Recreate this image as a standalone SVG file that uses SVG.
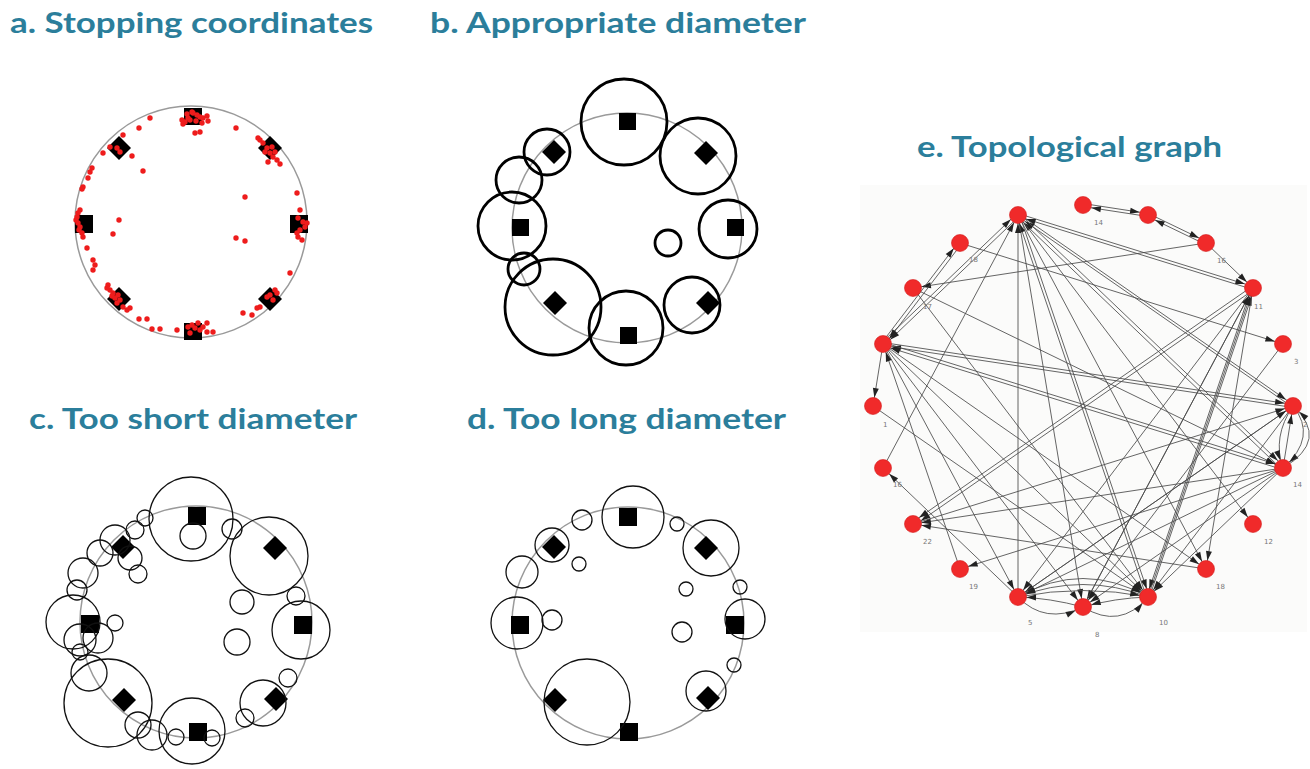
<svg xmlns="http://www.w3.org/2000/svg" width="1310" height="769" viewBox="0 0 1310 769">
<style>
.t{font-family:Lato,"Open Sans","Liberation Sans",sans-serif;font-weight:bold;font-size:29px;fill:#2b7e9b}
.g{fill:none;stroke:#9a9a9a;stroke-width:1.5}
.k{fill:#000}
.r{fill:#ee1c1c}
.b3{fill:none;stroke:#000;stroke-width:2.8}
.b1{fill:none;stroke:#111;stroke-width:1.3}
.e{fill:none;stroke:#4a4a4a;stroke-width:1;stroke-opacity:0.85;marker-end:url(#ar)}
.n{fill:#f02a2a;stroke:#d41a1a;stroke-width:0.6}
.lb{font-family:"DejaVu Sans",sans-serif;font-size:7px;fill:#777}
</style>
<defs>
<marker id="ar" viewBox="-20 -5 22 10" markerWidth="22" markerHeight="10" markerUnits="userSpaceOnUse" refX="0" refY="0" orient="auto">
<path d="M-18,-3 L-8.5,0 L-18,3 z" fill="#222"/>
</marker>
</defs>
<rect width="1310" height="769" fill="#fff"/>

<g id="titles">
<text class="t" x="10" y="33" textLength="363" lengthAdjust="spacingAndGlyphs">a. Stopping coordinates</text>
<text class="t" x="430" y="33" textLength="376" lengthAdjust="spacingAndGlyphs">b. Appropriate diameter</text>
<text class="t" x="29" y="429" textLength="328" lengthAdjust="spacingAndGlyphs">c. Too short diameter</text>
<text class="t" x="467" y="429" textLength="319" lengthAdjust="spacingAndGlyphs">d. Too long diameter</text>
<text class="t" x="917" y="157" textLength="305" lengthAdjust="spacingAndGlyphs">e. Topological graph</text>
</g>

<g id="panel-a">
<circle class="g" cx="191" cy="222" r="116"/>
<rect class="k" x="184" y="108" width="18" height="17"/>
<rect class="k" x="184" y="323" width="18" height="17"/>
<rect class="k" x="75" y="215" width="18" height="18"/>
<rect class="k" x="290" y="215" width="18" height="18"/>
<path class="k" d="M119,136 L131,148 L119,160 L107,148 z"/>
<path class="k" d="M270,136 L282,148 L270,160 L258,148 z"/>
<path class="k" d="M119,287 L131,299 L119,311 L107,299 z"/>
<path class="k" d="M270,287 L282,299 L270,311 L258,299 z"/>
<g class="r">
<circle cx="185" cy="122" r="2.7"/><circle cx="182" cy="120" r="2.7"/><circle cx="183" cy="124" r="2.7"/><circle cx="188" cy="118" r="2.7"/><circle cx="193" cy="113" r="2.7"/><circle cx="197" cy="115" r="2.7"/><circle cx="200" cy="117" r="2.7"/><circle cx="203" cy="118" r="2.7"/><circle cx="207" cy="116" r="2.7"/><circle cx="208" cy="121" r="2.7"/><circle cx="202" cy="123" r="2.7"/><circle cx="195" cy="133" r="2.7"/><circle cx="200" cy="132" r="2.7"/><circle cx="192" cy="112" r="2.7"/><circle cx="187" cy="114" r="2.7"/><circle cx="190" cy="120" r="2.7"/><circle cx="196" cy="121" r="2.7"/>
<circle cx="150" cy="118" r="2.7"/><circle cx="139" cy="128" r="2.7"/><circle cx="236" cy="128" r="2.7"/>
<circle cx="260" cy="140" r="2.7"/><circle cx="263" cy="143" r="2.7"/><circle cx="267" cy="148" r="2.7"/><circle cx="270" cy="153" r="2.7"/><circle cx="273" cy="157" r="2.7"/><circle cx="277" cy="160" r="2.7"/><circle cx="280" cy="164" r="2.7"/><circle cx="268" cy="162" r="2.7"/><circle cx="258" cy="138" r="2.7"/><circle cx="265" cy="152" r="2.7"/><circle cx="272" cy="147" r="2.7"/><circle cx="275" cy="152" r="2.7"/>
<circle cx="117" cy="148" r="2.7"/><circle cx="120" cy="152" r="2.7"/><circle cx="110" cy="147" r="2.7"/><circle cx="123" cy="135" r="2.7"/><circle cx="103" cy="153" r="2.7"/><circle cx="132" cy="156" r="2.7"/><circle cx="143" cy="171" r="2.7"/>
<circle cx="92" cy="168" r="2.7"/><circle cx="90" cy="172" r="2.7"/><circle cx="88" cy="178" r="2.7"/><circle cx="83" cy="187" r="2.7"/><circle cx="82" cy="189" r="2.7"/><circle cx="80" cy="210" r="2.7"/><circle cx="78" cy="213" r="2.7"/><circle cx="77" cy="217" r="2.7"/><circle cx="78" cy="223" r="2.7"/><circle cx="80" cy="227" r="2.7"/><circle cx="82" cy="233" r="2.7"/><circle cx="83" cy="237" r="2.7"/><circle cx="87" cy="248" r="2.7"/><circle cx="93" cy="260" r="2.7"/><circle cx="95" cy="265" r="2.7"/><circle cx="93" cy="270" r="2.7"/><circle cx="76" cy="220" r="2.7"/><circle cx="79" cy="230" r="2.7"/>
<circle cx="119" cy="220" r="2.7"/><circle cx="113" cy="234" r="2.7"/><circle cx="245" cy="197" r="2.7"/><circle cx="236" cy="238" r="2.7"/><circle cx="245" cy="241" r="2.7"/>
<circle cx="297" cy="193" r="2.7"/><circle cx="300" cy="210" r="2.7"/><circle cx="298" cy="218" r="2.7"/><circle cx="303" cy="222" r="2.7"/><circle cx="307" cy="223" r="2.7"/><circle cx="305" cy="227" r="2.7"/><circle cx="300" cy="230" r="2.7"/><circle cx="297" cy="233" r="2.7"/><circle cx="298" cy="237" r="2.7"/><circle cx="302" cy="240" r="2.7"/><circle cx="290" cy="273" r="2.7"/>
<circle cx="108" cy="285" r="2.7"/><circle cx="110" cy="290" r="2.7"/><circle cx="113" cy="293" r="2.7"/><circle cx="115" cy="298" r="2.7"/><circle cx="117" cy="303" r="2.7"/><circle cx="120" cy="300" r="2.7"/><circle cx="123" cy="307" r="2.7"/><circle cx="127" cy="310" r="2.7"/><circle cx="130" cy="308" r="2.7"/><circle cx="107" cy="288" r="2.7"/><circle cx="112" cy="296" r="2.7"/><circle cx="118" cy="295" r="2.7"/>
<circle cx="139" cy="319" r="2.7"/><circle cx="147" cy="319" r="2.7"/><circle cx="152" cy="329" r="2.7"/><circle cx="160" cy="329" r="2.7"/><circle cx="177" cy="330" r="2.7"/>
<circle cx="188" cy="327" r="2.7"/><circle cx="192" cy="325" r="2.7"/><circle cx="195" cy="328" r="2.7"/><circle cx="198" cy="323" r="2.7"/><circle cx="200" cy="330" r="2.7"/><circle cx="203" cy="327" r="2.7"/><circle cx="207" cy="323" r="2.7"/><circle cx="207" cy="332" r="2.7"/><circle cx="213" cy="332" r="2.7"/><circle cx="190" cy="333" r="2.7"/>
<circle cx="267" cy="297" r="2.7"/><circle cx="273" cy="300" r="2.7"/><circle cx="277" cy="293" r="2.7"/><circle cx="275" cy="290" r="2.7"/><circle cx="260" cy="307" r="2.7"/><circle cx="252" cy="315" r="2.7"/><circle cx="243" cy="313" r="2.7"/><circle cx="257" cy="308" r="2.7"/><circle cx="270" cy="295" r="2.7"/>
</g>
</g>

<g id="panel-b">
<circle class="g" cx="627" cy="228" r="115"/>
<rect class="k" x="619" y="113" width="17" height="17"/>
<rect class="k" x="727" y="219" width="17" height="17"/>
<rect class="k" x="512" y="219" width="17" height="17"/>
<rect class="k" x="620" y="327" width="17" height="17"/>
<path class="k" d="M554,140 L566,152 L554,164 L542,152 z"/>
<path class="k" d="M706,141 L718,153 L706,165 L694,153 z"/>
<path class="k" d="M708,291 L720,303 L708,315 L696,303 z"/>
<path class="k" d="M555,291 L567,303 L555,315 L543,303 z"/>
<circle class="b3" cx="624" cy="122" r="43"/>
<circle class="b3" cx="698" cy="156" r="38"/>
<circle class="b3" cx="728" cy="229" r="29"/>
<circle class="b3" cx="692" cy="305" r="28"/>
<circle class="b3" cx="626" cy="328" r="37"/>
<circle class="b3" cx="553" cy="307" r="48"/>
<circle class="b3" cx="524" cy="269" r="16"/>
<circle class="b3" cx="512" cy="226" r="34"/>
<circle class="b3" cx="519" cy="180" r="23"/>
<circle class="b3" cx="547" cy="152" r="23"/>
<circle class="b3" cx="668" cy="243" r="13"/>
</g>

<g id="panel-c">
<circle class="g" cx="196" cy="622" r="116"/>
<rect class="k" x="188" y="507" width="18" height="18"/>
<rect class="k" x="294" y="616" width="18" height="18"/>
<rect class="k" x="81" y="615" width="18" height="18"/>
<rect class="k" x="189" y="723" width="18" height="18"/>
<path class="k" d="M123,535 L135,547 L123,559 L111,547 z"/>
<path class="k" d="M275,536 L287,548 L275,560 L263,548 z"/>
<path class="k" d="M124,688 L136,700 L124,712 L112,700 z"/>
<path class="k" d="M276,687 L288,699 L276,711 L264,699 z"/>
<g class="b1">
<circle cx="191" cy="519" r="42"/><circle cx="193" cy="536" r="13"/>
<circle cx="269" cy="556" r="39"/><circle cx="232" cy="529" r="10"/>
<circle cx="296" cy="596" r="9"/><circle cx="301" cy="630" r="29"/>
<circle cx="242" cy="602" r="12"/><circle cx="237" cy="642" r="13"/>
<circle cx="263" cy="703" r="23"/><circle cx="288" cy="678" r="9"/><circle cx="245" cy="718" r="9"/>
<circle cx="192" cy="731" r="33"/><circle cx="212" cy="738" r="8"/><circle cx="176" cy="737" r="8"/>
<circle cx="152" cy="735" r="15"/><circle cx="138" cy="725" r="13"/>
<circle cx="108" cy="703" r="44"/><circle cx="89" cy="673" r="18"/>
<circle cx="73" cy="622" r="27"/><circle cx="80" cy="640" r="16"/><circle cx="98" cy="638" r="15"/><circle cx="80" cy="652" r="8"/><circle cx="115" cy="623" r="8"/><circle cx="77" cy="590" r="10"/>
<circle cx="83" cy="573" r="15"/><circle cx="100" cy="553" r="13"/><circle cx="115" cy="540" r="15"/><circle cx="130" cy="558" r="12"/><circle cx="138" cy="574" r="9"/><circle cx="135" cy="530" r="9"/><circle cx="145" cy="518" r="8"/>
</g>
</g>

<g id="panel-d">
<circle class="g" cx="628" cy="623" r="116"/>
<rect class="k" x="619" y="508" width="18" height="18"/>
<rect class="k" x="726" y="616" width="18" height="18"/>
<rect class="k" x="511" y="616" width="18" height="18"/>
<rect class="k" x="620" y="723" width="18" height="18"/>
<path class="k" d="M554,535 L566,547 L554,559 L542,547 z"/>
<path class="k" d="M706,536 L718,548 L706,560 L694,548 z"/>
<path class="k" d="M555,688 L567,700 L555,712 L543,700 z"/>
<path class="k" d="M708,686 L720,698 L708,710 L696,698 z"/>
<g class="b1">
<circle cx="633" cy="517" r="31"/><circle cx="582" cy="520" r="10"/><circle cx="677" cy="524" r="7"/>
<circle cx="711" cy="548" r="28"/><circle cx="552" cy="545" r="17"/><circle cx="522" cy="572" r="16"/><circle cx="579" cy="564" r="7"/>
<circle cx="517" cy="623" r="26"/><circle cx="552" cy="620" r="10"/>
<circle cx="740" cy="587" r="7"/><circle cx="686" cy="589" r="7"/><circle cx="745" cy="619" r="20"/><circle cx="682" cy="632" r="10"/><circle cx="734" cy="665" r="7"/>
<circle cx="706" cy="691" r="20"/><circle cx="587" cy="702" r="43"/>
</g>
</g>

<g id="panel-e">
<rect x="860" y="185" width="447" height="447" fill="#fbfbfa"/>
<g id="connectors">
<path class="e" d="M1083,203.5 L1148,213.5"/>
<path class="e" d="M1148,216.5 L1083,206.5"/>
<path class="e" d="M1148.6,213.6 L1206.6,241.6"/>
<path class="e" d="M1205.4,244.4 L1147.4,216.4"/>
<path class="e" d="M1206,243 L1253,288"/>
<path class="e" d="M1206,243 L913,288"/>
<path class="e" d="M1018,213.5 L1253,286.5"/>
<path class="e" d="M1253,289.5 L1018,216.5"/>
<path class="e" d="M1018,213.5 L1293,404.5"/>
<path class="e" d="M1293,407.5 L1018,216.5"/>
<path class="e" d="M1019,213.5 L1284,466.5"/>
<path class="e" d="M1282,469.5 L1017,216.5"/>
<path class="e" d="M1018,215 L1253,524"/>
<path class="e" d="M1018,215 L1206,569"/>
<path class="e" d="M1019.5,215 L1149.5,597"/>
<path class="e" d="M1146.5,597 L1016.5,215"/>
<path class="e" d="M1018,215 L1083,607"/>
<path class="e" d="M1018,597 L1018,215"/>
<path class="e" d="M1019,216.5 L884,345.5"/>
<path class="e" d="M882,342.5 L1017,213.5"/>
<path class="e" d="M883,468 L1018,215"/>
<path class="e" d="M961,244.5 L884,345.5"/>
<path class="e" d="M882,342.5 L959,241.5"/>
<path class="e" d="M883,344 L873,406"/>
<path class="e" d="M960,243 L1283,344"/>
<path class="e" d="M913,288 L1283,468"/>
<path class="e" d="M883,342.5 L1293,404.5"/>
<path class="e" d="M1293,407.5 L883,345.5"/>
<path class="e" d="M883.5,342.5 L1283.5,466.5"/>
<path class="e" d="M1282.5,469.5 L882.5,345.5"/>
<path class="e" d="M883,344 L1018,597"/>
<path class="e" d="M883,344 L1083,607"/>
<path class="e" d="M883,344 L1148,597"/>
<path class="e" d="M883,344 L1206,569"/>
<path class="e" d="M960,569 L883,344"/>
<path class="e" d="M873,406 L1148,597"/>
<path class="e" d="M1018,597 L883,468"/>
<path class="e" d="M1252,286.5 L912,522.5"/>
<path class="e" d="M1254,289.5 L914,525.5"/>
<path class="e" d="M1253,288 L1018,597"/>
<path class="e" d="M1251.5,288 L1146.5,597"/>
<path class="e" d="M1149.5,597 L1254.5,288"/>
<path class="e" d="M1253,288 L1083,607"/>
<path class="e" d="M1083,607 L1253,288"/>
<path class="e" d="M1253,288 L1206,569"/>
<path class="e" d="M1283,344 L1083,607"/>
<path class="e" d="M1283,468 L960,569"/>
<path class="e" d="M1283,468 L913,524"/>
<path class="e" d="M1206,569 L913,524"/>
<path class="e" d="M1283,468 L1018,597"/>
<path class="e" d="M1283,468 L1083,607"/>
<path class="e" d="M1283,468 L1148,597"/>
<path class="e" d="M1293,406 L1148,597"/>
<path class="e" d="M1293,406 L1018,597"/>
<path class="e" d="M913,288 L1148,597"/>
<path class="e" d="M913,524 L1293,406"/>
<path class="e" d="M1018,597 L1293,406"/>
<path class="e" d="M1148,597 L1253,288"/>
<path class="e" d="M1018,597 Q1083,560 1148,597"/>
<path class="e" d="M1148,597 Q1083,572 1018,597"/>
<path class="e" d="M1018,597 Q1083,584 1148,597"/>
<path class="e" d="M1018,597 Q1045,625 1083,607"/>
<path class="e" d="M1083,607 Q1050,598 1018,597"/>
<path class="e" d="M1083,607 Q1120,630 1148,597"/>
<path class="e" d="M1148,597 Q1115,598 1083,607"/>
<path class="e" d="M1293,406 Q1318,437 1283,468"/>
<path class="e" d="M1283,468 Q1330,440 1293,406"/>
<path class="e" d="M1293,406 Q1272,437 1283,468"/>
<path class="e" d="M1283,468 L1293,406"/>
</g>
<g id="nodes">
<circle id="n0" class="n" cx="1083" cy="205" r="8.5"/>
<circle id="n1" class="n" cx="1148" cy="215" r="8.5"/>
<circle id="n2" class="n" cx="1206" cy="243" r="8.5"/>
<circle id="n3" class="n" cx="1253" cy="288" r="8.5"/>
<circle id="n4" class="n" cx="1283" cy="344" r="8.5"/>
<circle id="n5" class="n" cx="1293" cy="406" r="8.5"/>
<circle id="n6" class="n" cx="1283" cy="468" r="8.5"/>
<circle id="n7" class="n" cx="1253" cy="524" r="8.5"/>
<circle id="n8" class="n" cx="1206" cy="569" r="8.5"/>
<circle id="n9" class="n" cx="1148" cy="597" r="8.5"/>
<circle id="n10" class="n" cx="1083" cy="607" r="8.5"/>
<circle id="n11" class="n" cx="1018" cy="597" r="8.5"/>
<circle id="n12" class="n" cx="960" cy="569" r="8.5"/>
<circle id="n13" class="n" cx="913" cy="524" r="8.5"/>
<circle id="n14" class="n" cx="883" cy="468" r="8.5"/>
<circle id="n15" class="n" cx="873" cy="406" r="8.5"/>
<circle id="n16" class="n" cx="883" cy="344" r="8.5"/>
<circle id="n17" class="n" cx="913" cy="288" r="8.5"/>
<circle id="n18" class="n" cx="960" cy="243" r="8.5"/>
<circle id="n19" class="n" cx="1018" cy="215" r="8.5"/>
</g>
<g id="labels">
<text class="lb" x="1094" y="225">14</text>
<text class="lb" x="1217" y="263">16</text>
<text class="lb" x="1254" y="309">11</text>
<text class="lb" x="1294" y="364">3</text>
<text class="lb" x="1303" y="427">2</text>
<text class="lb" x="1293" y="487">14</text>
<text class="lb" x="1264" y="544">12</text>
<text class="lb" x="1216" y="589">18</text>
<text class="lb" x="1159" y="625">10</text>
<text class="lb" x="1095" y="637">8</text>
<text class="lb" x="1028" y="625">5</text>
<text class="lb" x="969" y="589">19</text>
<text class="lb" x="923" y="544">22</text>
<text class="lb" x="893" y="487">16</text>
<text class="lb" x="883" y="427">1</text>
<text class="lb" x="923" y="309">17</text>
<text class="lb" x="969" y="262">18</text>
</g>
</g>
</svg>
